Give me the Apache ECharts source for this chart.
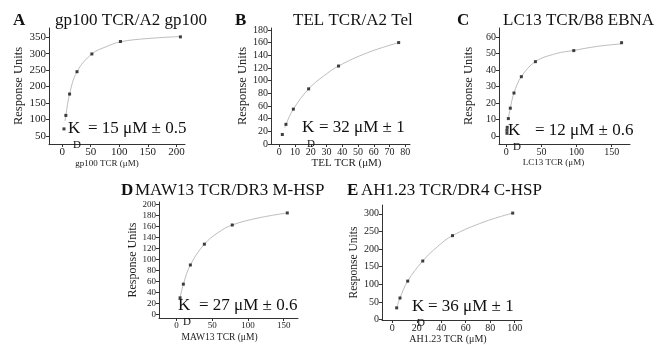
<!DOCTYPE html>
<html>
<head>
<meta charset="utf-8">
<title>TCR binding curves</title>
<script src="https://cdn.jsdelivr.net/npm/echarts@6/dist/echarts.min.js"></script>
<style>
	html, body { margin: 0; padding: 0; background: #fff; }
	#chart { width: 669px; height: 345px; }
</style>
</head>
<body>
<div id="chart"></div>
<script>
// values: concentration (uM) vs response units
var concA = [3.2, 6.5, 13, 26, 52, 102, 207];
var respA = [71, 112, 177, 245, 299, 337, 351];
var concB = [1.9, 4.2, 8.9, 18.6, 37.6, 75.8];
var respB = [15, 31, 55, 87, 123, 160];
var concC = [0.9, 0.9, 1.3, 2.9, 5.7, 10.9, 21.4, 41.4, 96, 164];
var respC = [1.8, 3.6, 5.4, 10.7, 17, 26.2, 36.1, 45.2, 51.9, 56.7];
var concD = [5, 9.6, 19.4, 39, 78, 155];
var respD = [30, 55, 90, 128, 163, 185];
var concE = [3.6, 6.3, 12.6, 24.9, 49.2, 98.4];
var respE = [33, 61, 109, 166, 238, 302];

// grey fit curves
var fitXA = [5, 6.5, 13, 26, 52, 77, 102, 150, 207];
var fitYA = [95, 112, 177, 245, 299, 321, 336, 346, 352];
var fitXB = [3.5, 4.2, 8.9, 18.6, 28, 37.6, 56, 75.8];
var fitYB = [26, 31, 55, 87, 107, 123, 144, 160];
var fitXC = [2.9, 5.7, 10.9, 21.4, 41.4, 70, 96, 130, 164];
var fitYC = [10.7, 17, 26.2, 36.1, 45.2, 50, 52, 54.5, 56];
var fitXD = [5, 9.6, 19.4, 39, 58, 78, 115, 155];
var fitYD = [30, 55, 90, 128, 149, 163, 176, 185];
var fitXE = [3.6, 6.3, 12.6, 24.9, 37, 49.2, 75, 98.4];
var fitYE = [33, 61, 109, 166, 207, 238, 277, 302];

// tick labels
var xTicksA = [0, 50, 100, 150, 200];
var yTicksA = [50, 100, 150, 200, 250, 300, 350];
var xTicksB = [0, 10, 20, 30, 40, 50, 60, 70, 80];
var yTicksB = [0, 20, 40, 60, 80, 100, 120, 140, 160, 180];
var xTicksC = [0, 50, 100, 150];
var yTicksC = [0, 10, 20, 30, 40, 50, 60];
var xTicksD = [0, 50, 100, 150];
var yTicksD = [0, 20, 40, 60, 80, 100, 120, 140, 160, 180, 200];
var xTicksE = [0, 20, 40, 60, 80, 100];
var yTicksE = [0, 50, 100, 150, 200, 250, 300];

var titles = ['gp100 TCR/A2 gp100', 'TEL TCR/A2 Tel', 'LC13 TCR/B8 EBNA', 'MAW13 TCR/DR3 M-HSP', 'AH1.23 TCR/DR4 C-HSP'];
var letters = ['A', 'B', 'C', 'D', 'E'];
var xNames = ['gp100 TCR (\u03bcM)', 'TEL TCR (\u03bcM)', 'LC13 TCR (\u03bcM)', 'MAW13 TCR (\u03bcM)', 'AH1.23 TCR (\u03bcM)'];
var kdTexts = ['= 15 \u03bcM \u00b1 0.5', '= 32 \u03bcM \u00b1 1', '= 12 \u03bcM \u00b1 0.6', '= 27 \u03bcM \u00b1 0.6', '= 36 \u03bcM \u00b1 1'];

var SERIF = '"Liberation Serif", "DejaVu Serif", serif';

var TcrChart = {
	// layout of each small panel (pixel boxes + axis ranges)
	panels: [
		{grid: {left: 49, top: 28, width: 136, height: 116}, x: [-23, 215], y: [25, 378], tickFont: 11, xNameFont: 9, yNameFont: 12.5,
			title: {lx: 13, tx: 55, y: 21}, kd: {x: 68, y: 129, dx: 20}, xShift: -10, yGap: 20},
		{grid: {left: 271, top: 28, width: 139, height: 116}, x: [-5.3, 83], y: [0, 183], tickFont: 10, xNameFont: 11, yNameFont: 12.5,
			title: {lx: 235, tx: 293, y: 21}, kd: {x: 302, y: 128, dx: 17}, xShift: 6, yGap: 21},
		{grid: {left: 499, top: 28, width: 131, height: 116}, x: [-10.4, 176], y: [-4.7, 65.6], tickFont: 10, xNameFont: 9, yNameFont: 12.5,
			title: {lx: 457, tx: 503, y: 21}, kd: {x: 508, y: 131, dx: 27}, xShift: -11, yGap: 24},
		{grid: {left: 159, top: 202, width: 139, height: 116}, x: [-24.5, 170], y: [-6.8, 205], tickFont: 9, xNameFont: 9.5, yNameFont: 12,
			title: {lx: 121, tx: 135, y: 190.5}, kd: {x: 178, y: 306, dx: 21}, xShift: -9, yGap: 20},
		{grid: {left: 382, top: 205, width: 140, height: 116.5}, x: [-8.4, 106], y: [-1.4, 325], tickFont: 10, xNameFont: 10, yNameFont: 11.5,
			title: {lx: 347, tx: 361, y: 190.5}, kd: {x: 412, y: 307, dx: 16}, xShift: -4, yGap: 22}
	],
	conc: [concA, concB, concC, concD, concE],
	resp: [respA, respB, respC, respD, respE],
	fitX: [fitXA, fitXB, fitXC, fitXD, fitXE],
	fitY: [fitYA, fitYB, fitYC, fitYD, fitYE],
	xTicks: [xTicksA, xTicksB, xTicksC, xTicksD, xTicksE],
	yTicks: [yTicksA, yTicksB, yTicksC, yTicksD, yTicksE],

	init: function() {
		var chart = echarts.init(document.getElementById('chart'), null, {renderer: 'canvas'});
		chart.setOption(this.buildOption());
	},

	pairs: function(xs, ys) {
		var out = [];
		for (var k = 0; k < xs.length; k++) {
			out.push([xs[k], ys[k]]);
		}
		return out;
	},

	axisCommon: function(p) {
		return {
			axisLine: {onZero: false, lineStyle: {color: '#333', width: 1}},
			axisTick: {show: true, length: 3, lineStyle: {color: '#333'}},
			splitLine: {show: false},
			axisLabel: {fontFamily: SERIF, fontSize: p.tickFont, color: '#222', margin: 3}
		};
	},

	buildOption: function() {
		var grid = [], xAxis = [], yAxis = [], series = [], graphic = [];

		for (var i = 0; i < this.panels.length; i++) {
			var p = this.panels[i];
			grid.push(p.grid);

			var xa = this.axisCommon(p);
			xa.type = 'value';
			xa.gridIndex = i;
			xa.min = p.x[0];
			xa.max = p.x[1];
			xa.axisLabel.customValues = this.xTicks[i];
			xa.axisTick.customValues = this.xTicks[i];
			xa.name = xNames[i];
			xa.nameLocation = 'middle';
			xa.nameGap = 14;
			xa.nameTextStyle = {
				fontFamily: SERIF, fontSize: p.xNameFont, color: '#222',
				padding: p.xShift < 0 ? [0, -2 * p.xShift, 0, 0] : [0, 0, 0, 2 * p.xShift]
			};
			xAxis.push(xa);

			var ya = this.axisCommon(p);
			ya.type = 'value';
			ya.gridIndex = i;
			ya.min = p.y[0];
			ya.max = p.y[1];
			ya.axisLabel.customValues = this.yTicks[i];
			ya.axisTick.customValues = this.yTicks[i];
			ya.name = 'Response Units';
			ya.nameLocation = 'middle';
			ya.nameGap = p.yGap;
			ya.nameTextStyle = {fontFamily: SERIF, fontSize: p.yNameFont, color: '#222'};
			yAxis.push(ya);

			// fitted binding curve (thin grey)
			series.push({
				type: 'line',
				xAxisIndex: i,
				yAxisIndex: i,
				data: this.pairs(this.fitX[i], this.fitY[i]),
				smooth: 0.4,
				showSymbol: false,
				silent: true,
				lineStyle: {color: '#bdbdbd', width: 1}
			});
			// measured points
			series.push({
				type: 'scatter',
				xAxisIndex: i,
				yAxisIndex: i,
				data: this.pairs(this.conc[i], this.resp[i]),
				symbol: 'rect',
				symbolSize: 3,
				itemStyle: {color: '#111'},
				z: 5
			});

			// panel letter + title
			graphic.push({
				type: 'text',
				style: {text: letters[i], x: p.title.lx, y: p.title.y, fontFamily: SERIF, fontSize: 17, fontWeight: 'bold',
					fill: '#111', verticalAlign: 'middle'}
			});
			graphic.push({
				type: 'text',
				style: {text: titles[i], x: p.title.tx, y: p.title.y, fontFamily: SERIF, fontSize: 17,
					fill: '#111', verticalAlign: 'middle'}
			});

			// K_D annotation
			graphic.push({
				type: 'text', z: 10,
				style: {text: 'K', x: p.kd.x, y: p.kd.y, fontFamily: SERIF, fontSize: 17, fill: '#111', verticalAlign: 'middle'}
			});
			graphic.push({
				type: 'text', z: 10,
				style: {text: 'D', x: p.kd.x + 5, y: p.kd.y + 16, fontFamily: SERIF, fontSize: 11, fill: '#111', verticalAlign: 'middle'}
			});
			graphic.push({
				type: 'text', z: 10,
				style: {text: kdTexts[i], x: p.kd.x + p.kd.dx, y: p.kd.y, fontFamily: SERIF, fontSize: 17, fill: '#111', verticalAlign: 'middle'}
			});
		}

		return {
			backgroundColor: '#fff',
			animation: false,
			grid: grid,
			xAxis: xAxis,
			yAxis: yAxis,
			series: series,
			graphic: graphic
		};
	}
};

TcrChart.init();
</script>
</body>
</html>
